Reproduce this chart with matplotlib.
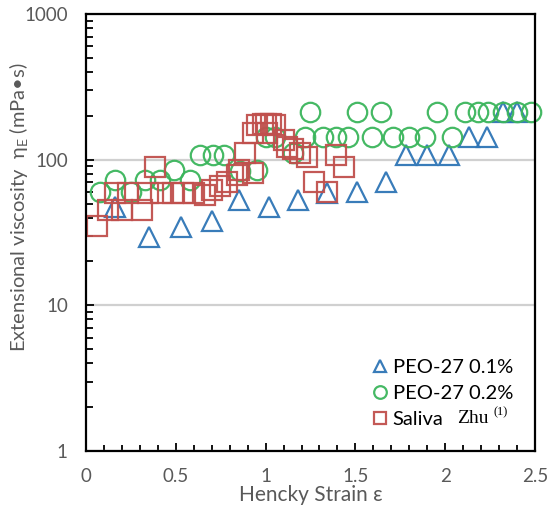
import matplotlib
matplotlib.use("Agg")
import matplotlib.pyplot as plt
from matplotlib.ticker import MultipleLocator, LogLocator, NullFormatter, FixedLocator

plt.rcParams['font.family'] = ['Lato', 'DejaVu Sans']
plt.rcParams['mathtext.fontset'] = 'custom'
plt.rcParams['mathtext.rm'] = 'Lato'

# PEO-27 0.1%
peo1_x = [0.16, 0.35, 0.53, 0.70, 0.85, 1.02, 1.18, 1.34, 1.51, 1.67, 1.78, 1.90, 2.02, 2.13, 2.23, 2.32, 2.40]
peo1_y = [47, 29.5, 34.5, 38, 53, 47, 53, 59, 60, 70, 108, 108, 108, 142, 142, 211, 211]

# PEO-27 0.2%
peo2_x = [0.08, 0.16, 0.25, 0.33, 0.41, 0.49, 0.58, 0.635, 0.71, 0.77, 0.86, 0.95, 1.00, 1.05, 1.15,
          1.22, 1.25, 1.32, 1.39, 1.46, 1.51, 1.59, 1.64, 1.71, 1.80, 1.89, 1.955, 2.04, 2.11, 2.18,
          2.24, 2.32, 2.40, 2.48]
peo2_y = [60, 72, 60, 72, 72, 85, 72, 107, 107, 107, 83, 85, 144, 144, 112,
          142, 211, 142, 142, 142, 211, 142, 211, 142, 142, 142, 211, 142, 211, 211,
          211, 211, 211, 211]

# Saliva
sal_x = [0.06, 0.12, 0.16, 0.20, 0.235, 0.31, 0.345, 0.385, 0.42, 0.485, 0.54, 0.60, 0.66, 0.70,
         0.745, 0.785, 0.84, 0.85, 0.885, 0.93, 0.93, 0.95, 0.985, 1.00, 1.01, 1.03, 1.05, 1.10,
         1.12, 1.15, 1.19, 1.23, 1.27, 1.34, 1.39, 1.435]
sal_y = [35, 45, 59, 45, 59, 45, 59, 89.5, 59, 59, 59, 59, 57, 62,
         66, 70, 79, 85, 112, 81, 153, 174, 176, 176, 153, 176, 174, 137,
         123, 118, 112, 105, 70, 60, 107, 89.5]

blue = '#2E75B6'
green = '#3BB55C'
red = '#C0504D'
gray = '#595959'

fig = plt.figure(figsize=(5.49, 5.11), dpi=100)
ax = fig.add_axes([0.1566, 0.1174, 0.8179, 0.8552])

ms = 14
mew = 1.6
ax.plot(peo1_x, peo1_y, linestyle='none', marker='^', ms=ms, mfc='none', mec=blue, mew=mew,
        label='PEO-27 0.1%', alpha=0.95, zorder=3, clip_on=False)
ax.plot(peo2_x, peo2_y, linestyle='none', marker='o', ms=ms, mfc='none', mec=green, mew=mew,
        label='PEO-27 0.2%', alpha=0.95, zorder=3, clip_on=False)
ax.plot(sal_x, sal_y, linestyle='none', marker='s', ms=ms, mfc='none', mec=red, mew=mew,
        label='Saliva', alpha=0.95, zorder=3, clip_on=False)

ax.set_yscale('log')
ax.set_xlim(0, 2.5)
ax.set_ylim(1, 1000)

ax.xaxis.set_major_locator(MultipleLocator(0.5))
ax.xaxis.set_minor_locator(MultipleLocator(0.1))
ax.set_xticks([0, 0.5, 1, 1.5, 2, 2.5])
ax.set_xticklabels(['0', '0.5', '1', '1.5', '2', '2.5'])
ax.yaxis.set_major_locator(FixedLocator([1, 10, 100, 1000]))
ax.set_yticklabels(['1', '10', '100', '1000'])
ax.yaxis.set_minor_locator(LogLocator(base=10, subs=range(2, 10)))
ax.yaxis.set_minor_formatter(NullFormatter())

ax.tick_params(axis='both', which='both', direction='in', colors='black', labelcolor=gray,
               labelsize=13.5, width=1.3)
ax.tick_params(axis='x', which='major', length=6, pad=12)
ax.tick_params(axis='x', which='minor', length=4)
ax.tick_params(axis='y', which='major', length=6, pad=13)
ax.tick_params(axis='y', which='minor', length=5)
ax.tick_params(top=False, right=False, which='both')

for s in ax.spines.values():
    s.set_linewidth(1.6)
    s.set_color('black')
    s.set_zorder(4)

ax.yaxis.grid(True, which='major', color='#D0D0D0', linewidth=1.6)
ax.set_axisbelow(True)

ax.set_xlabel('Hencky Strain ε', color=gray, fontsize=15, labelpad=0)
ax.set_ylabel('Extensional viscosity  η$_\\mathrm{E}$ (mPa•s)', color=gray, fontsize=14.5)
ax.yaxis.set_label_coords(-0.122, 0.558)

leg = ax.legend(loc='lower left', bbox_to_anchor=(0.6, 0.02), frameon=False, fontsize=14.5,
                markerscale=0.65, handletextpad=0.15, labelspacing=0.45, handlelength=1.0,
                borderpad=0.2)
for t in leg.get_texts():
    t.set_color('black')

ax.text(0.826, 0.075, 'Zhu', transform=ax.transAxes, fontsize=14, family='Liberation Serif',
        va='center', ha='left')
ax.text(0.908, 0.088, '(1)', transform=ax.transAxes, fontsize=9, family='Liberation Serif',
        va='center', ha='left')

fig.savefig('out.png', dpi=100)
